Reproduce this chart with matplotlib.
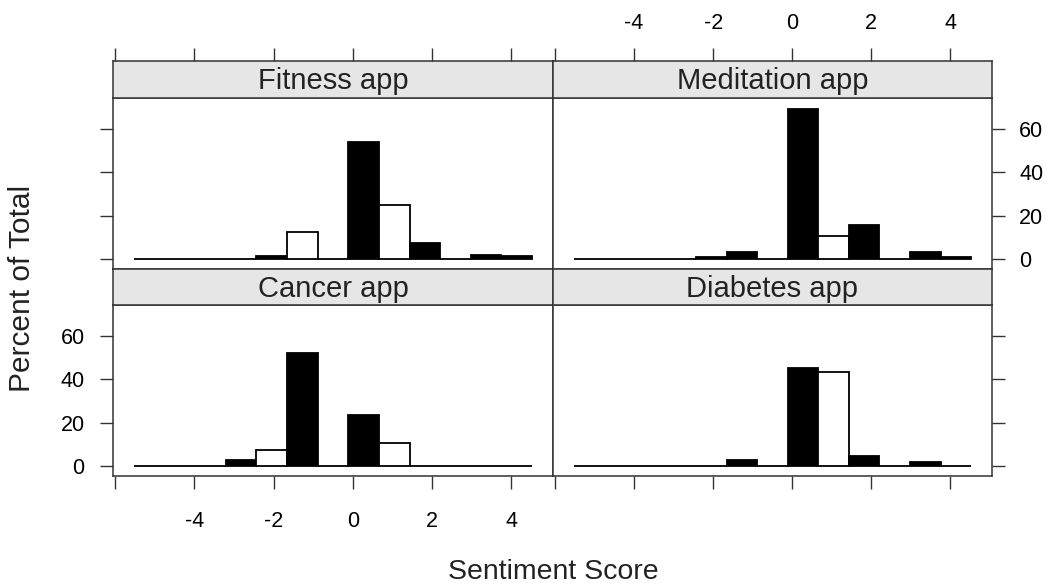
import numpy as np
import matplotlib
matplotlib.use("Agg")
import matplotlib.pyplot as plt

plt.rcParams['font.family'] = ['Liberation Sans', 'DejaVu Sans']

# histogram breaks (sentiment score) and percent of total per bin
breaks = [-5.52, -4.75, -3.97, -3.2, -2.43, -1.66, -0.89, -0.11,
          0.66, 1.43, 2.2, 2.97, 3.75, 4.52]
apps = ["Fitness app", "Meditation app", "Cancer app", "Diabetes app"]
fitness = [0, 0, 0, 0, 1.1, 12.5, 0, 54.2, 24.9, 7.2, 0, 2.0, 1.1]
meditation = [0, 0, 0, 0, 1.0, 3.0, 0, 69.5, 10.4, 15.8, 0, 3.0, 1.0]
cancer = [0, 0, 0, 2.8, 7.3, 52.2, 0, 23.7, 10.6, 0, 0, 0, 0]
diabetes = [0, 0, 0, 0, 0, 2.8, 0, 45.5, 43.6, 4.7, 0, 2.0, 0]
x_ticks = [-6, -4, -2, 0, 2, 4]
x_ticklabels = ["", "-4", "-2", "0", "2", "4"]
y_ticks = [0, 20, 40, 60]

# bar fills per bin (k = black, w = white)
fills = {
    "Fitness app":    "kkkkkwkkwkkkk",
    "Meditation app": "kkkkkkkkwkkkk",
    "Cancer app":     "kkkkwkkkwkkkk",
    "Diabetes app":   "kkkkkkkkwkkkk",
}
values = {"Fitness app": fitness, "Meditation app": meditation,
          "Cancer app": cancer, "Diabetes app": diabetes}

W, H = 1046, 588
fig = plt.figure(figsize=(W / 100, H / 100), dpi=100)

def px(x0, y0, x1, y1):
    return [x0 / W, 1 - y1 / H, (x1 - x0) / W, (y1 - y0) / H]

xlim = (-6.05, 5.05)
ylim = (-4.7, 74.5)
edge = "#333333"
tick_kw = dict(length=9.5, width=1.0, color=edge, labelsize=15.5)

cols = [(113, 553), (553, 992)]
rows = [(61, 98, 269), (269, 305, 476)]

lefts = np.array(breaks[:-1])
widths = np.diff(breaks)

for i, app in enumerate(apps):
    r, c = divmod(i, 2)
    x0, x1 = cols[c]
    s0, s1, p1 = rows[r]
    ax = fig.add_axes(px(x0, s1, x1, p1))
    st = fig.add_axes(px(x0, s0, x1, s1))

    colors = ["black" if f == "k" else "white" for f in fills[app]]
    ax.bar(lefts, values[app], width=widths, align="edge", color=colors,
           edgecolor="black", linewidth=1.3)
    ax.set_xlim(xlim)
    ax.set_ylim(ylim)

    st.set_xlim(xlim)
    st.set_facecolor("#e6e6e6")
    st.set_yticks([])
    st.text(0.5, 0.45, app, transform=st.transAxes, ha="center", va="center",
            fontsize=21, color="#222222")

    for a in (ax, st):
        for sp in a.spines.values():
            sp.set_color(edge)
            sp.set_linewidth(1.1)

    # x axis: top ticks on top strips, bottom ticks on bottom panels
    ax.set_xticks(x_ticks)
    st.set_xticks(x_ticks)
    if r == 0:
        ax.tick_params(axis="x", bottom=False, labelbottom=False)
        st.tick_params(axis="x", bottom=False, labelbottom=False, top=True,
                       labeltop=(c == 1), pad=10, **tick_kw)
        st.set_xticklabels(x_ticklabels)
    else:
        st.tick_params(axis="x", bottom=False, labelbottom=False)
        ax.tick_params(axis="x", bottom=True, labelbottom=(c == 0), pad=16,
                       **tick_kw)
        ax.set_xticklabels(x_ticklabels)

    # y axis: left ticks on left column, right ticks on right column
    ax.set_yticks(y_ticks)
    if c == 0:
        ax.tick_params(axis="y", left=True, labelleft=(r == 1), right=False,
                       pad=11, **tick_kw)
    else:
        ax.tick_params(axis="y", left=False, labelleft=False, right=True,
                       labelright=(r == 0), pad=10, **tick_kw)

fig.text(22 / W, 1 - 288 / H, "Percent of Total", rotation=90, ha="center",
         va="center", fontsize=21.5, color="#222222")
fig.text(553 / W, 1 - 572 / H, "Sentiment Score", ha="center", va="center",
         fontsize=20.5, color="#222222")

fig.savefig("out.png", dpi=100)
